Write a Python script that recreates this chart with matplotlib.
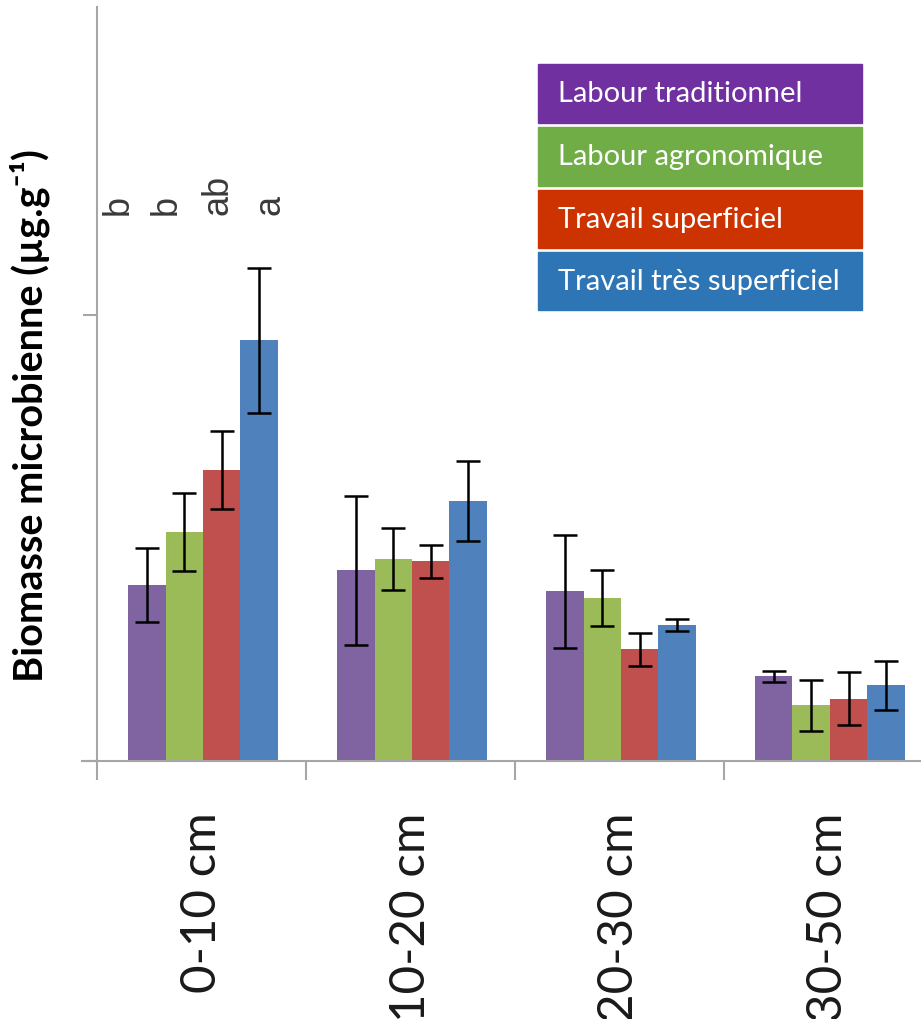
import matplotlib
matplotlib.use("Agg")
import matplotlib.pyplot as plt
from matplotlib.patches import Rectangle
import numpy as np

# depths and tillage treatments
depths = ["0-10 cm", "10-20 cm", "20-30 cm", "30-50 cm"]
treatments = ["Labour traditionnel", "Labour agronomique",
              "Travail superficiel", "Travail très superficiel"]

# mean microbial biomass per depth (µg/g)
trad = [158, 171, 152, 76]
agro = [205, 181, 146, 50]
sup = [261, 179, 100, 56]
tres_sup = [377, 233, 122, 68]

# standard errors
trad_err = [33, 67, 51, 5]
agro_err = [35, 28, 25, 23]
sup_err = [35, 15, 15, 24]
tres_sup_err = [65, 36, 5, 22]

# significance letters for the top layer
letters = ["b", "b", "ab", "a"]

bar_colors = ["#8064A2", "#9BBB59", "#C0504D", "#4F81BD"]
box_colors = ["#7030A0", "#70AD47", "#CC3300", "#2E75B6"]

plt.rcParams["font.family"] = ["Lato", "DejaVu Sans"]

fig = plt.figure(figsize=(9.21, 10.2), dpi=100)
ax = fig.add_axes([0.0895, 0.2529, 1 - 0.0895, 0.9922 - 0.2529])

x = np.arange(len(depths))
w = 0.179
series = [trad, agro, sup, tres_sup]
errs = [trad_err, agro_err, sup_err, tres_sup_err]
for i, (vals, err) in enumerate(zip(series, errs)):
    ax.bar(x + 0.007 + (i - 1.5) * w, vals, w, color=bar_colors[i], yerr=err,
           error_kw=dict(ecolor="black", elinewidth=1.8, capsize=8.6, capthick=1.8),
           zorder=2)

ax.set_xlim(-0.57, 3.443)
ax.set_ylim(0, 676)

for s in ["top", "right"]:
    ax.spines[s].set_visible(False)
for s in ["left", "bottom"]:
    ax.spines[s].set_color("#A6A6A6")
    ax.spines[s].set_linewidth(1.5)
ax.spines["left"].set_position(("data", -0.5))

ax.set_yticks([0, 400])
ax.set_yticklabels([])
ax.tick_params(axis="y", length=10, width=1.5, color="#A6A6A6", direction="out")

ax.set_xticks([-0.5, 0.5, 1.5, 2.5])
ax.set_xticklabels([])
ax.tick_params(axis="x", which="major", length=14, width=1.5, color="#A6A6A6")
ax.set_xticks(x, minor=True)
ax.set_xticklabels(depths, minor=True, rotation=90, fontsize=35.5, color="#1A1A1A")
ax.tick_params(axis="x", which="minor", length=0, pad=36)

# significance letters above the 0-10 cm group
letter_x = [-0.40, -0.17, 0.08, 0.33]
for lx, lt in zip(letter_x, letters):
    ax.text(lx, 490, lt, rotation=90, ha="center", va="bottom",
            fontsize=26, color="#3A3A3A", family="Liberation Sans")

fig.text(0.032, 0.593, "Biomasse microbienne (µg.g⁻¹)",
         rotation=90, ha="center", va="center", fontsize=28.5, fontweight="bold")

# coloured legend boxes
box_top = [65, 128, 191, 253]
box_h = [59, 59, 58, 58]
W, H = 921, 1020
for t, h, lab, c in zip(box_top, box_h, treatments, box_colors):
    fig.patches.append(Rectangle((538 / W, 1 - (t + h) / H), 324 / W, h / H,
                                 transform=fig.transFigure, color=c, zorder=3))
    fig.text(558 / W, 1 - (t + h / 2) / H, lab, color="white", fontsize=21,
             ha="left", va="center", zorder=4)

fig.savefig("out.png", dpi=100)
